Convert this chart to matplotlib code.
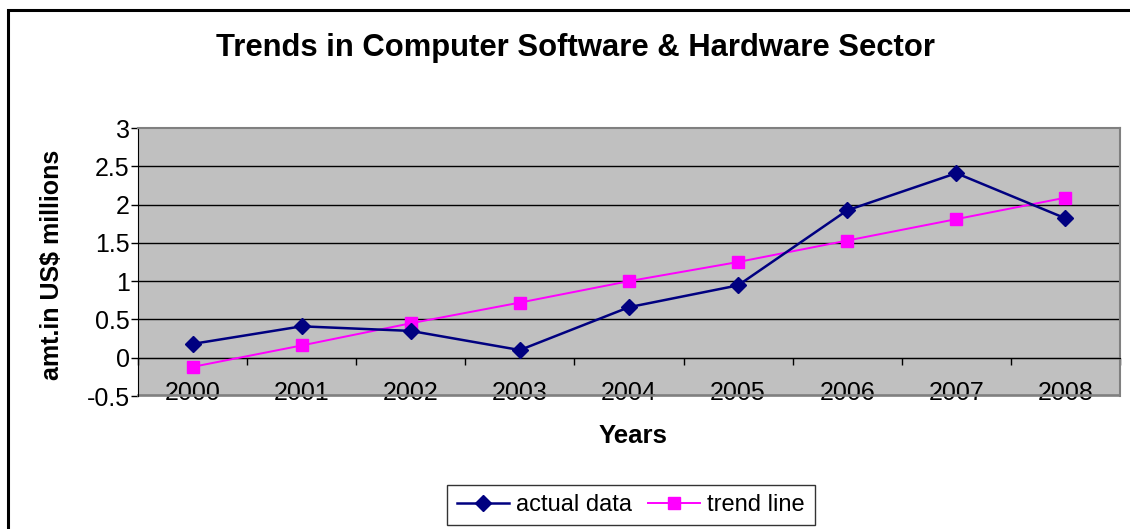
import matplotlib
matplotlib.use('Agg')
from matplotlib import pyplot as plt
from matplotlib.patches import Rectangle
from matplotlib.ticker import FixedLocator, NullFormatter

matplotlib.rc('font', family=['Liberation Sans', 'DejaVu Sans'])

years = ['2000', '2001', '2002', '2003', '2004', '2005', '2006', '2007', '2008']
actual = [0.18, 0.41, 0.35, 0.10, 0.66, 0.945, 1.925, 2.41, 1.82]
trend = [-0.12, 0.16, 0.45, 0.72, 1.00, 1.25, 1.53, 1.81, 2.09]
yticks = [-0.5, 0, 0.5, 1, 1.5, 2, 2.5, 3]
ytick_labels = ['-0.5', '0', '0.5', '1', '1.5', '2', '2.5', '3']

W, H = 1130, 529
fig = plt.figure(figsize=(W / 100, H / 100), dpi=100)

# outer chart frame (runs off the right and bottom edges)
fig.patches.append(Rectangle((8 / W, -0.05), 1.1, 1 - 10 / H + 0.05,
                             transform=fig.transFigure, fill=False,
                             edgecolor='black', lw=2.2, zorder=0))

ax = fig.add_axes([138 / W, 1 - 396 / H, (1120 - 138) / W, (396 - 128) / H])
ax.set_facecolor('#C0C0C0')

xs = list(range(len(years)))
ax.plot(xs, actual, color='#000080', lw=1.8, marker='D', ms=8,
        label='actual data', zorder=4)
ax.plot(xs, trend, color='#FF00FF', lw=1.4, marker='s', ms=9,
        label='trend line', zorder=3)

ax.set_xlim(-0.5, len(years) - 0.5)
ax.set_ylim(-0.5, 3)

# horizontal gridlines
ax.set_yticks(yticks)
ax.set_yticklabels(ytick_labels, fontsize=18)
for v in yticks[1:-1]:
    ax.axhline(v, color='black', lw=1, zorder=1)
ax.tick_params(axis='y', direction='out', length=5, width=1, pad=1)

# category axis crosses at zero, tick marks between categories
ax.spines['bottom'].set_position(('data', 0))
ax.spines['bottom'].set_color('black')
ax.xaxis.set_major_locator(FixedLocator([i - 0.5 for i in range(len(years) + 1)]))
ax.xaxis.set_major_formatter(NullFormatter())
ax.xaxis.set_minor_locator(FixedLocator(xs))
ax.set_xticklabels(years, minor=True, fontsize=18)
ax.tick_params(axis='x', which='major', direction='out', length=5, width=1)
ax.tick_params(axis='x', which='minor', length=0, pad=17)

ax.spines['left'].set_color('black')
for s in ['top', 'right']:
    ax.spines[s].set_color('#808080')
    ax.spines[s].set_linewidth(1.5)
ax.add_patch(Rectangle((0, 0), 1, 0.002, transform=ax.transAxes, fill=False,
                       edgecolor='#808080', lw=1.2, clip_on=False, zorder=2))

fig.text(575 / W, 1 - 48 / H, 'Trends in Computer Software & Hardware Sector',
         ha='center', va='center', fontsize=22.3, fontweight='bold')
fig.text(52 / W, 1 - 265 / H, 'amt.in US$ millions', rotation=90,
         ha='center', va='center', fontsize=18, fontweight='bold')
fig.text(633 / W, 1 - 436 / H, 'Years', ha='center', va='center',
         fontsize=18.5, fontweight='bold')

leg = fig.legend(loc='center', bbox_to_anchor=(631 / W, 1 - 505 / H), ncol=2,
                 fontsize=17, frameon=True, fancybox=False, handlelength=2.2,
                 handletextpad=0.3, columnspacing=0.7, borderpad=0.4,
                 borderaxespad=0)
leg.get_frame().set_edgecolor('black')
leg.get_frame().set_linewidth(1)

fig.savefig('out.png', dpi=100)
